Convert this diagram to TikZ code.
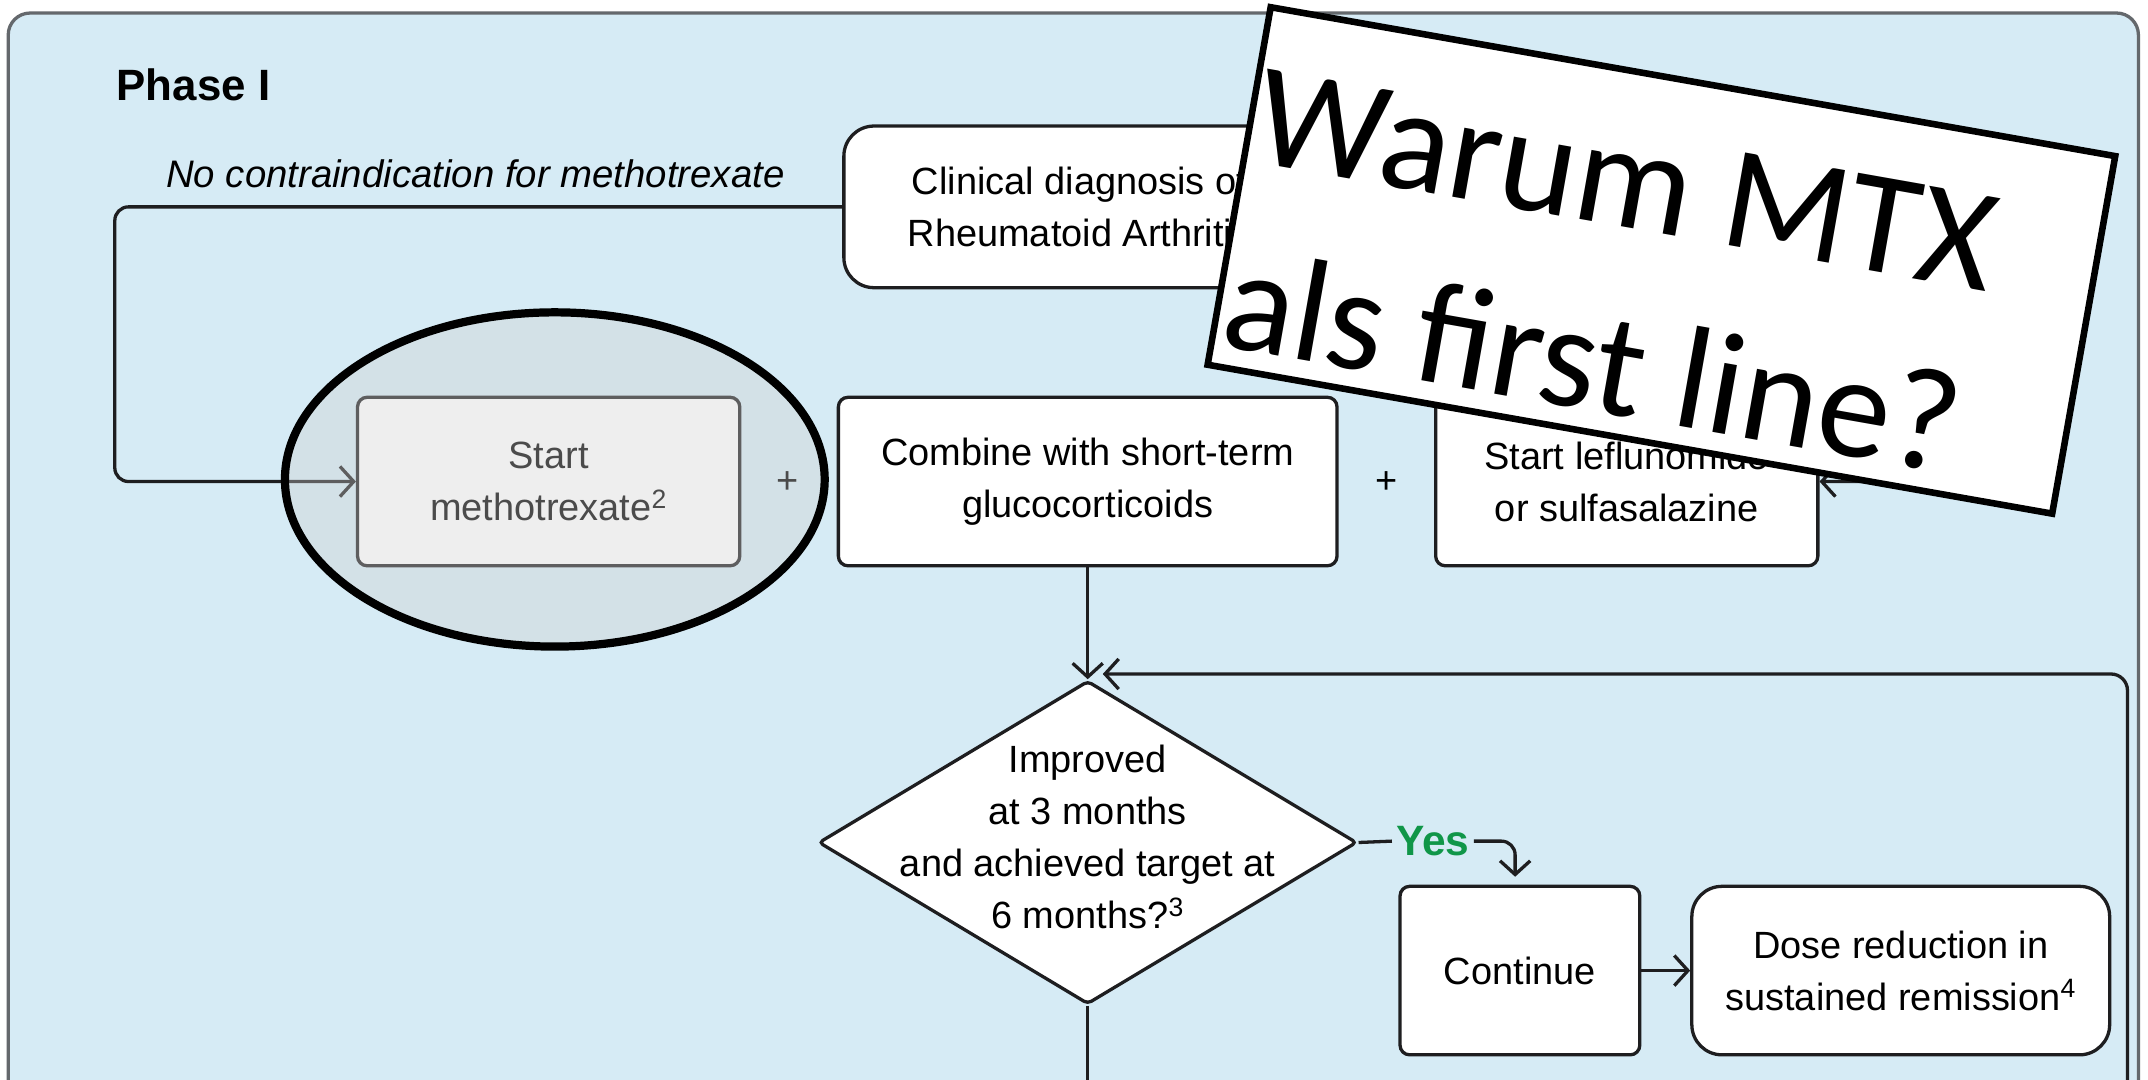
\documentclass[tikz,border=0pt]{standalone}
\usepackage{fontspec}
\setmainfont{Liberation Sans}
\newfontfamily\signfont{Carlito}
\usetikzlibrary{shapes.geometric,arrows.meta}

\definecolor{panelblue}{RGB}{214,235,245}
\definecolor{framegray}{RGB}{100,104,108}
\definecolor{inkdark}{RGB}{30,30,32}
\definecolor{yesgreen}{RGB}{16,150,72}
\definecolor{veilgray}{RGB}{208,208,208}

\begin{document}
\begin{tikzpicture}[x=1pt,y=-1pt,
  bodyfont/.style={font=\fontsize{27.7}{38}\selectfont},
  box/.style={draw=inkdark, line width=2.4pt, fill=white, rounded corners=7pt,
    align=center, inner sep=0pt, bodyfont},
  roundbox/.style={box, rounded corners=22pt},
  conn/.style={draw=inkdark, line width=2.4pt},
  arr/.style={conn, -{Straight Barb[length=10pt,width=22pt,line width=2.4pt]}},
  plus/.style={bodyfont, inner sep=0pt},
  signtext/.style={font=\signfont\fontsize{107}{137}\selectfont, inner sep=0pt}
]
% page and panel
\useasboundingbox (0,0) rectangle (1568,788);
\clip (0,0) rectangle (1568,788);
\fill[white] (0,0) rectangle (1568,788);
\draw[draw=framegray, line width=2.4pt, fill=panelblue, rounded corners=16pt]
  (6,9.5) rectangle (1561,840);

\node[anchor=base west, font=\bfseries\fontsize{32}{38}\selectfont, inner sep=0pt]
  (phase) at (85,73) {Phase I};

% first row
\node[roundbox, minimum width=344pt, minimum height=118pt] (clin) at (788,151)
  {Clinical diagnosis of\\Rheumatoid Arthritis};
\node[anchor=base, font=\itshape\fontsize{28}{33}\selectfont, inner sep=0pt]
  (noci) at (347,137) {No contraindication for methotrexate};

% treatment row
\node[box, minimum width=279pt, minimum height=123pt] (mtx) at (400.5,351.5)
  {Start\\methotrexate\textsuperscript{2}};
\node[box, minimum width=364pt, minimum height=123pt] (comb) at (794,351.5)
  {Combine with short-term\\glucocorticoids};
\node[box, minimum width=279pt, minimum height=123pt] (lef) at (1187.5,351.5)
  {Start leflunomide\\or sulfasalazine};
\node[plus] (plusa) at (575,352) {+};
\node[plus] (plusb) at (1012,352) {+};

\draw[arr, rounded corners=10pt] (clin.west) -- ++(-531,0) |- (mtx.west);
\draw[arr, rounded corners=10pt] (clin.east) -- ++(460,0) |- (lef.east);

% decision
\node[diamond, draw=inkdark, line width=2.4pt, fill=white, rounded corners=3pt,
  minimum width=393pt, minimum height=236pt, inner sep=0pt] (dec) at (794,615) {};
\node[bodyfont, align=center, inner sep=0pt] (dectext) at (794,611)
  {Improved\\at 3 months\\and achieved target at\\6 months?\textsuperscript{3}};

\draw[arr] (comb.south) -- (dec.north);

\coordinate (loopfoot) at (1553,840);
\coordinate (loopin) at (805,492);
\draw[arr, rounded corners=12pt] (loopfoot) |- (loopin);

% yes branch
\node[box, minimum width=175pt, minimum height=123pt] (cont) at (1109.5,708.5) {Continue};
\node[roundbox, minimum width=305pt, minimum height=123pt] (dose) at (1387.5,708.5)
  {Dose reduction in\\sustained remission\textsuperscript{4}};
\node[font=\bfseries\fontsize{31}{36}\selectfont, text=yesgreen, inner sep=3pt]
  (yes) at (1046,614) {Yes};
\coordinate (yesdrop) at (1106,640);
\draw[conn] (dec.east) -- (yes.west);
\draw[arr, rounded corners=10pt] (yes.east) -| (yesdrop);
\draw[arr] (cont.east) -- (dose.west);

\coordinate (decfoot) at (794,840);
\draw[conn] (dec.south) -- (decfoot);

% highlight ring over the methotrexate step
\node[ellipse, draw=black, line width=6pt, fill=veilgray, fill opacity=0.36,
  minimum width=394pt, minimum height=244pt, inner sep=0pt] (focus) at (405,350) {};

% question card
\begin{scope}[shift={(1212.8,190.1)}, rotate=-10, transform shape]
  \node[draw=black, line width=4.8pt, fill=white, minimum width=626pt,
    minimum height=265pt, inner sep=0pt] (sign) at (0,0) {};
  \node[signtext, anchor=base west] (signa) at (-308,-19) {Warum MTX};
  \node[signtext, anchor=base west] (signb) at (-308,117) {als first line?};
\end{scope}
\end{tikzpicture}
\end{document}
